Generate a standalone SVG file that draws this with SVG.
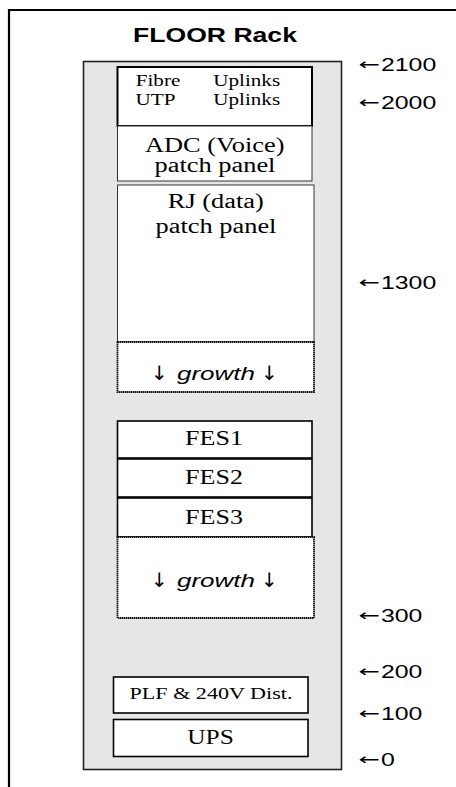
<svg xmlns="http://www.w3.org/2000/svg" width="456" height="787" viewBox="0 0 456 787">
<style>
.serif{font-family:"Liberation Serif","Times New Roman",serif;fill:#000;text-anchor:middle}
.sans{font-family:"Liberation Sans",Arial,sans-serif;fill:#000}
.box{fill:#fff;stroke:#000;stroke-width:1.6}
.thin{fill:#fff;stroke:#333;stroke-width:1}
.dot{fill:#fff;stroke:#111;stroke-width:1.8;stroke-dasharray:1.5 0.5}
.lbl{font-size:20px}
.arr{font-family:"DejaVu Sans",sans-serif;font-size:16px;fill:#000;text-anchor:middle}
.darr{font-family:"DejaVu Sans",sans-serif;font-size:20px;fill:#000;text-anchor:middle}
.gr{font-family:"Liberation Sans",Arial,sans-serif;font-style:italic;font-size:19px;fill:#000;text-anchor:middle}
.num{font-family:"Liberation Sans",Arial,sans-serif;font-size:18px;fill:#000}
</style>
<rect width="456" height="787" fill="#fff"/>
<g id="frame">
<path d="M9 787 V10 H456" fill="none" stroke="#000" stroke-width="2.2"/>
<text class="sans" transform="translate(215,42) scale(1.266,1)" font-size="21" font-weight="bold" text-anchor="middle">FLOOR Rack</text>
</g>
<g id="rack">
<rect x="83.5" y="61.5" width="258" height="708" fill="#e6e6e6" stroke="#222" stroke-width="1.6"/>
</g>
<g id="uplinks">
<rect x="117.5" y="67" width="194.5" height="59" fill="#fff" stroke="#000" stroke-width="2"/>
<text class="serif" transform="translate(158,86) scale(1.32,1)" font-size="16">Fibre</text>
<text class="serif" transform="translate(246.7,86) scale(1.32,1)" font-size="16">Uplinks</text>
<text class="serif" transform="translate(155.5,105) scale(1.32,1)" font-size="16">UTP</text>
<text class="serif" transform="translate(246.7,105) scale(1.32,1)" font-size="16">Uplinks</text>
</g>
<g id="adc">
<rect class="thin" x="117.5" y="126" width="194.5" height="55"/>
<text class="serif lbl" transform="translate(214.7,152) scale(1.32,1)">ADC (Voice)</text>
<text class="serif lbl" transform="translate(215,172) scale(1.32,1)">patch panel</text>
</g>
<g id="rj">
<rect class="thin" x="117.5" y="185" width="196.5" height="157"/>
<text class="serif lbl" transform="translate(215.8,208) scale(1.32,1)">RJ (data)</text>
<text class="serif lbl" transform="translate(216,233) scale(1.32,1)">patch panel</text>
</g>
<g id="growth1">
<rect class="dot" x="117.5" y="342" width="196.5" height="50"/>
<text class="darr" x="159.5" y="380">↓</text>
<text class="gr" transform="translate(216,380) scale(1.37,1)">growth</text>
<text class="darr" x="269.5" y="380">↓</text>
</g>
<g id="fes1">
<rect class="box" x="117.5" y="421" width="194.5" height="37"/>
<text class="serif lbl" transform="translate(214,445) scale(1.3,1)">FES1</text>
</g>
<g id="fes2">
<rect class="box" x="117.5" y="459" width="194.5" height="38"/>
<text class="serif lbl" transform="translate(214,484) scale(1.3,1)">FES2</text>
</g>
<g id="fes3">
<rect class="box" x="117.5" y="498" width="194.5" height="39"/>
<text class="serif lbl" transform="translate(214,524) scale(1.3,1)">FES3</text>
</g>
<g id="growth2">
<rect class="dot" x="117.5" y="537" width="196.5" height="81"/>
<text class="darr" x="159.5" y="587">↓</text>
<text class="gr" transform="translate(216,587) scale(1.37,1)">growth</text>
<text class="darr" x="269.5" y="587">↓</text>
</g>
<g id="plf">
<rect class="box" x="113.5" y="677" width="194.5" height="36"/>
<text class="serif" transform="translate(211,699) scale(1.3,1)" font-size="17">PLF &amp; 240V Dist.</text>
</g>
<g id="ups">
<rect class="box" x="113.5" y="719.5" width="194.5" height="37"/>
<text class="serif lbl" transform="translate(210.5,744) scale(1.27,1)">UPS</text>
</g>
<g id="scale">
<text class="arr" transform="translate(369,70) scale(1.6,1)">←</text>
<text class="num" transform="translate(381,71) scale(1.38,1)">2100</text>
<text class="arr" transform="translate(369,108) scale(1.6,1)">←</text>
<text class="num" transform="translate(381,109) scale(1.38,1)">2000</text>
<text class="arr" transform="translate(369,288) scale(1.6,1)">←</text>
<text class="num" transform="translate(381,289) scale(1.38,1)">1300</text>
<text class="arr" transform="translate(369,621) scale(1.6,1)">←</text>
<text class="num" transform="translate(381,622) scale(1.38,1)">300</text>
<text class="arr" transform="translate(369,677) scale(1.6,1)">←</text>
<text class="num" transform="translate(381,678) scale(1.38,1)">200</text>
<text class="arr" transform="translate(369,719) scale(1.6,1)">←</text>
<text class="num" transform="translate(381,720) scale(1.38,1)">100</text>
<text class="arr" transform="translate(369,765) scale(1.6,1)">←</text>
<text class="num" transform="translate(381,766) scale(1.38,1)">0</text>
</g>
<g id="connectors"></g>
</svg>
